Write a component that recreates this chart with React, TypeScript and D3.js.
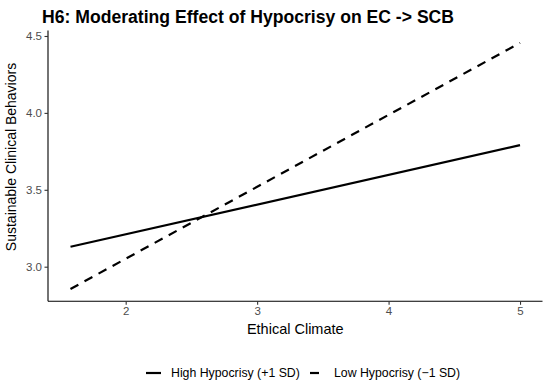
import { useEffect, useRef } from 'react';
import { axisBottom, axisLeft, line, scaleLinear, select } from 'd3';

// Ethical Climate (x) at -1 SD .. +1 SD range of data
const ecValues = [1.58, 5];
const highHypocrisy = [3.13, 3.79];
const lowHypocrisy = [2.855, 4.455];
const seriesNames = ['High Hypocrisy (+1 SD)', 'Low Hypocrisy (\u22121 SD)'];
const xTicks = [2, 3, 4, 5];
const yTicks = [3.0, 3.5, 4.0, 4.5];

export default function App() {
  const svgRef = useRef<SVGSVGElement>(null);

  useEffect(() => {
    const width = 550;
    const height = 383;
    const margin = { top: 30.6, right: 7.5, bottom: 81.7, left: 48 };
    const font = "'Liberation Sans', Arial, sans-serif";

    const svg = select(svgRef.current);
    svg.selectAll('*').remove();
    svg.attr('width', width).attr('height', height);

    svg.append('rect').attr('width', width).attr('height', height).attr('fill', '#fff');

    // ggplot style 5% expansion
    const allY = [...highHypocrisy, ...lowHypocrisy];
    const yMin = Math.min(...allY);
    const yMax = Math.max(...allY);
    const yPad = (yMax - yMin) * 0.05;
    const xPad = (ecValues[1] - ecValues[0]) * 0.05;

    const x = scaleLinear()
      .domain([ecValues[0] - xPad, ecValues[1] + xPad])
      .range([margin.left, width - margin.right]);
    const y = scaleLinear()
      .domain([yMin - yPad, yMax + yPad])
      .range([height - margin.bottom, margin.top]);

    const series = [
      { name: seriesNames[0], values: highHypocrisy, dash: null },
      { name: seriesNames[1], values: lowHypocrisy, dash: '9,7' },
    ];

    const lineGen = line<number>()
      .x((_, i) => x(ecValues[i]))
      .y((d) => y(d));

    series.forEach((s) => {
      svg
        .append('path')
        .datum(s.values)
        .attr('d', lineGen)
        .attr('fill', 'none')
        .attr('stroke', '#000')
        .attr('stroke-width', 2.2)
        .attr('stroke-dasharray', s.dash);
    });

    // axes
    const xAxis = svg
      .append('g')
      .attr('transform', `translate(0,${height - margin.bottom})`)
      .call(axisBottom(x).tickValues(xTicks).tickSize(3.5).tickPadding(2.5).tickFormat((d) => String(d)));
    const yAxis = svg
      .append('g')
      .attr('transform', `translate(${margin.left},0)`)
      .call(axisLeft(y).tickValues(yTicks).tickSize(3.5).tickPadding(2.5).tickFormat((d) => (+d).toFixed(1)));

    [xAxis, yAxis].forEach((g) => {
      g.select('.domain').attr('stroke', '#000').attr('stroke-width', 1.1);
      g.selectAll('.tick line').attr('stroke', '#333').attr('stroke-width', 1.1);
      g.selectAll('.tick text')
        .attr('fill', '#4d4d4d')
        .attr('font-family', font)
        .attr('font-size', 11.5);
    });
    // no outer ticks on the domain lines
    xAxis.select('.domain').attr('d', `M${x.range()[0]},0H${x.range()[1]}`);
    yAxis.select('.domain').attr('d', `M0,${y.range()[0]}V${y.range()[1]}`);

    // titles
    svg
      .append('text')
      .attr('x', 42)
      .attr('y', 23)
      .attr('font-family', font)
      .attr('font-weight', 'bold')
      .attr('font-size', 17.6)
      .attr('fill', '#000')
      .text('H6: Moderating Effect of Hypocrisy on EC -> SCB');

    svg
      .append('text')
      .attr('x', (x.range()[0] + x.range()[1]) / 2)
      .attr('y', 334)
      .attr('text-anchor', 'middle')
      .attr('font-family', font)
      .attr('font-size', 14.5)
      .attr('fill', '#000')
      .text('Ethical Climate');

    svg
      .append('text')
      .attr('transform', 'translate(16,157) rotate(-90)')
      .attr('text-anchor', 'middle')
      .attr('font-family', font)
      .attr('font-size', 14)
      .attr('fill', '#000')
      .text('Sustainable Clinical Behaviors');

    // legend
    const legendY = 373;
    const legendX = [146, 310];
    series.forEach((s, i) => {
      const g = svg.append('g').attr('transform', `translate(${legendX[i]},${legendY})`);
      g.append('line')
        .attr('x1', 0)
        .attr('x2', 15)
        .attr('y1', 0)
        .attr('y2', 0)
        .attr('stroke', '#000')
        .attr('stroke-width', 2.2)
        .attr('stroke-dasharray', s.dash);
      g.append('text')
        .attr('x', i === 0 ? 25 : 24)
        .attr('y', 4.3)
        .attr('font-family', font)
        .attr('font-size', 12.3)
        .attr('fill', '#000')
        .text(s.name);
    });
  }, []);

  return (
    <div style={{ position: 'absolute', left: 0, top: 0 }}>
      <svg ref={svgRef} style={{ display: 'block' }}></svg>
    </div>
  );
}
